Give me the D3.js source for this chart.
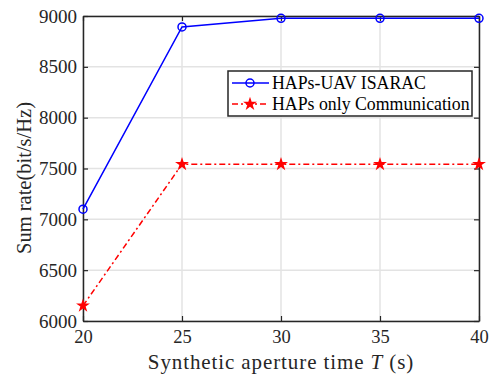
<!DOCTYPE html>
<html>
<head>
<meta charset="utf-8">
<script src="https://cdn.jsdelivr.net/npm/d3@7"></script>
<style>
  body { margin: 0; background: #fff; }
  svg text { font-family: 'Liberation Serif', serif !important; }
</style>
</head>
<body>
<div id="chart"></div>
<script>
const width = 492;
const height = 375;
const margin = {top: 16, right: 13, bottom: 54, left: 83};

const xTicks = [20, 25, 30, 35, 40];
const yTicks = [6000, 6500, 7000, 7500, 8000, 8500, 9000];
const times = [20, 25, 30, 35, 40];
const isarac = [7100, 8893, 8977, 8977, 8977];
const commOnly = [6150, 7542, 7542, 7542, 7542];
const seriesNames = ["HAPs-UAV ISARAC", "HAPs only Communication"];

const x = d3.scaleLinear()
  .domain([20, 40])
  .range([margin.left, width - margin.right]);

const y = d3.scaleLinear()
  .domain([6000, 9000])
  .range([height - margin.bottom, margin.top]);

const svg = d3.select('#chart').append('svg')
  .attr('width', width)
  .attr('height', height);

// grid
svg.append('g')
  .selectAll('line')
  .data(xTicks)
  .join('line')
  .attr('x1', d => x(d)).attr('x2', d => x(d))
  .attr('y1', y(6000)).attr('y2', y(9000))
  .attr('stroke', '#e3e3e3').attr('stroke-width', 1.5);

svg.append('g')
  .selectAll('line')
  .data(yTicks)
  .join('line')
  .attr('x1', x(20)).attr('x2', x(40))
  .attr('y1', d => y(d)).attr('y2', d => y(d))
  .attr('stroke', '#e3e3e3').attr('stroke-width', 1.5);

// axes (ticks inward, box on all sides)
const axisStyle = (g, size) => g
  .attr('font-family', null)
  .call(g => g.select('.domain').attr('stroke', '#262626').attr('stroke-width', 1.5))
  .call(g => g.selectAll('.tick line').attr('stroke', '#262626').attr('stroke-width', 1.2))
  .call(g => g.selectAll('text')
    .attr('font-size', size)
    .attr('fill', '#262626'));

svg.append('g')
  .attr('transform', `translate(0,${y(6000)})`)
  .call(d3.axisBottom(x).tickValues(xTicks).tickSize(-5).tickSizeOuter(0).tickPadding(9).tickFormat(d3.format('d')))
  .call(axisStyle, 18.5);

svg.append('g')
  .attr('transform', `translate(0,${y(9000)})`)
  .call(d3.axisTop(x).tickValues(xTicks).tickSize(-5).tickSizeOuter(0).tickFormat(''))
  .call(axisStyle, 18);

svg.append('g')
  .attr('transform', `translate(${x(20)},0)`)
  .call(d3.axisLeft(y).tickValues(yTicks).tickSize(-5).tickSizeOuter(0).tickPadding(6).tickFormat(d3.format('d')))
  .call(axisStyle, 19);

svg.append('g')
  .attr('transform', `translate(${x(40)},0)`)
  .call(d3.axisRight(y).tickValues(yTicks).tickSize(-5).tickSizeOuter(0).tickFormat(''))
  .call(axisStyle, 18);

// lines
const pts1 = times.map((t, i) => ({t, v: isarac[i]}));
const pts2 = times.map((t, i) => ({t, v: commOnly[i]}));

const line = d3.line()
  .x(d => x(d.t))
  .y(d => y(d.v));

svg.append('path')
  .datum(pts2)
  .attr('fill', 'none')
  .attr('stroke', '#ff0000')
  .attr('stroke-width', 1.5)
  .attr('stroke-dasharray', '6,3,2,3')
  .attr('d', line);

svg.append('path')
  .datum(pts1)
  .attr('fill', 'none')
  .attr('stroke', '#0000ff')
  .attr('stroke-width', 1.5)
  .attr('d', line);

const star = d3.symbol().type(d3.symbolStar).size(60);

svg.append('g')
  .selectAll('path')
  .data(pts2)
  .join('path')
  .attr('transform', d => `translate(${x(d.t)},${y(d.v)})`)
  .attr('d', star)
  .attr('fill', '#ff0000');

svg.append('g')
  .selectAll('circle')
  .data(pts1)
  .join('circle')
  .attr('cx', d => x(d.t))
  .attr('cy', d => y(d.v))
  .attr('r', 4)
  .attr('fill', 'none')
  .attr('stroke', '#0000ff')
  .attr('stroke-width', 1.5);

// legend
const leg = svg.append('g').attr('transform', 'translate(228,71)');
leg.append('rect')
  .attr('width', 244).attr('height', 45)
  .attr('fill', '#fff').attr('stroke', '#262626').attr('stroke-width', 1.5);

leg.append('line')
  .attr('x1', 4).attr('x2', 41).attr('y1', 12).attr('y2', 12)
  .attr('stroke', '#0000ff').attr('stroke-width', 1.5);
leg.append('circle')
  .attr('cx', 22).attr('cy', 12).attr('r', 4)
  .attr('fill', 'none').attr('stroke', '#0000ff').attr('stroke-width', 1.5);

leg.append('line')
  .attr('x1', 4).attr('x2', 41).attr('y1', 33).attr('y2', 33)
  .attr('stroke', '#ff0000').attr('stroke-width', 1.5)
  .attr('stroke-dasharray', '6,3,2,3');
leg.append('path')
  .attr('transform', 'translate(22,33)')
  .attr('d', star).attr('fill', '#ff0000');

leg.selectAll('text')
  .data(seriesNames)
  .join('text')
  .attr('x', 44)
  .attr('y', (d, i) => 12 + i * 21)
  .attr('dy', '0.35em')
  .attr('font-size', 17.8)
  .attr('fill', '#000')
  .text(d => d);

// axis labels
const xl = svg.append('text')
  .attr('x', (x(20) + x(40)) / 2)
  .attr('y', 369)
  .attr('text-anchor', 'middle')
  .attr('font-size', 21)
  .attr('letter-spacing', 0.9)
  .attr('fill', '#262626');
xl.append('tspan').text('Synthetic aperture time ');
xl.append('tspan').attr('font-style', 'italic').text('T');
xl.append('tspan').text(' (s)');

svg.append('text')
  .attr('transform', 'translate(31,178) rotate(-90)')
  .attr('text-anchor', 'middle')
  .attr('font-size', 20.5)
  .attr('fill', '#262626')
  .text('Sum rate(bit/s/Hz)');
</script>
</body>
</html>
